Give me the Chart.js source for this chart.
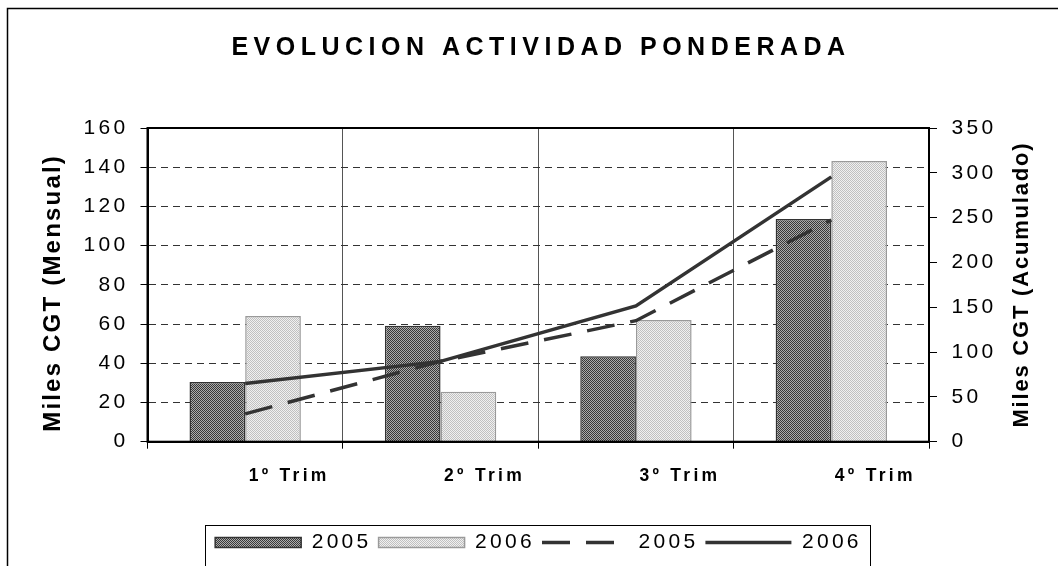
<!DOCTYPE html>
<html>
<head>
<meta charset="utf-8">
<script src="https://cdn.jsdelivr.net/npm/chart.js@4.4.0/dist/chart.umd.min.js"></script>
<style>
html, body { margin: 0; padding: 0; background: #fff; }
#wrap { width: 1058px; height: 566px; }
</style>
</head>
<body>
<div id="wrap"><canvas id="grafico"></canvas></div>
<script>
var titulo = 'EVOLUCION ACTIVIDAD PONDERADA';
var trimestres = ['1º Trim', '2º Trim', '3º Trim', '4º Trim'];
var mensual2005 = [30.5, 59.2, 43.6, 113.6];
var mensual2006 = [64.1, 25.5, 62.1, 143.2];
var acumulado2005 = [31, 89.7, 135, 247.4];
var acumulado2006 = [65, 89.6, 151.5, 295.5];
var escalaMensual = [0, 160, 20];     // min, max, paso
var escalaAcumulado = [0, 350, 50];
var tituloIzq = 'Miles CGT (Mensual)';
var tituloDer = 'Miles CGT (Acumulado)';

var fuente = '"Liberation Sans", Arial, Helvetica, sans-serif';
Chart.defaults.font.family = fuente;
Chart.defaults.color = '#000';

var canvas = document.getElementById('grafico');
var ctx = canvas.getContext('2d');

function trama(c1, c2) {
    var c = document.createElement('canvas');
    c.width = 2; c.height = 2;
    var x = c.getContext('2d');
    x.fillStyle = c2; x.fillRect(0, 0, 2, 2);
    x.fillStyle = c1; x.fillRect(0, 0, 1, 1); x.fillRect(1, 1, 1, 1);
    return ctx.createPattern(c, 'repeat');
}

// el texto del original sale algo espaciado
var espaciado = '3.3px';

var decorado = {
    id: 'decorado',
    beforeLayout: function(chart) {
        chart.ctx.letterSpacing = espaciado;
    },
    beforeDraw: function(chart) {
        var c = chart.ctx;
        c.letterSpacing = espaciado;
        c.save();
        c.fillStyle = '#fff';
        c.fillRect(0, 0, chart.width, chart.height);
        c.strokeStyle = '#000';
        c.lineWidth = 1.5;
        c.strokeRect(7.5, 8.5, chart.width + 20, chart.height + 20);
        c.restore();
    },
    afterDraw: function(chart) {
        var c = chart.ctx, a = chart.chartArea;
        c.save();
        c.strokeStyle = '#000';
        c.lineWidth = 2;
        c.strokeRect(a.left, a.top, a.right - a.left, a.bottom - a.top);

        c.fillStyle = '#000';
        c.font = 'bold 25px ' + fuente;
        c.letterSpacing = '5.5px';
        c.textAlign = 'center';
        c.textBaseline = 'alphabetic';
        c.fillText(titulo, 541, 54.5);

        c.textBaseline = 'middle';
        c.save();
        c.font = 'bold 24px ' + fuente;
        c.letterSpacing = '2.2px';
        c.translate(53, 294);
        c.rotate(-Math.PI / 2);
        c.fillText(tituloIzq, 1.1, 0);
        c.restore();
        c.save();
        c.font = 'bold 22px ' + fuente;
        c.letterSpacing = '1.8px';
        c.translate(1021.5, 285.5);
        c.rotate(-Math.PI / 2);
        c.fillText(tituloDer, 0.9, 0);
        c.restore();

        var lg = chart.legend, hb = lg.legendHitBoxes;
        if (hb && hb.length) {
            var ult = hb[hb.length - 1];
            var izq = hb[0].left - 10, der = ult.left + ult.width + 8;
            c.lineWidth = 1;
            c.strokeStyle = '#000';
            c.strokeRect(Math.round(izq) + 0.5, Math.round(lg.top) + 0.5, Math.round(der - izq), 80);
        }
        c.restore();
    }
};

var config = {
    type: 'bar',
    plugins: [decorado],
    data: {
        labels: trimestres,
        datasets: [{
            label: '2005',
            data: mensual2005,
            backgroundColor: trama('#383838', '#acacac'),
            borderColor: '#333333',
            borderWidth: 1.5,
            pointStyle: 'rect',
            yAxisID: 'y',
            order: 2
        }, {
            label: '2006',
            data: mensual2006,
            backgroundColor: trama('#c0c0c0', '#f0f0f0'),
            borderColor: '#9a9a9a',
            borderWidth: 1.5,
            pointStyle: 'rect',
            yAxisID: 'y',
            order: 2
        }, {
            type: 'line',
            label: '2005',
            data: acumulado2005,
            borderColor: '#333333',
            backgroundColor: '#333333',
            borderWidth: 3.5,
            borderDash: [28, 16],
            pointRadius: 0,
            pointStyle: 'line',
            tension: 0,
            yAxisID: 'y1',
            order: 1
        }, {
            type: 'line',
            label: '2006',
            data: acumulado2006,
            borderColor: '#333333',
            backgroundColor: '#333333',
            borderWidth: 3.5,
            pointRadius: 0,
            pointStyle: 'line',
            tension: 0,
            yAxisID: 'y1',
            order: 1
        }]
    },
    options: {
        responsive: true,
        maintainAspectRatio: false,
        animation: false,
        layout: { padding: { left: 19, right: 0, top: 128, bottom: 3 } },
        datasets: {
            bar: { categoryPercentage: 0.57, barPercentage: 1.0 }
        },
        plugins: {
            title: { display: false },
            tooltip: { enabled: false },
            legend: {
                position: 'bottom',
                labels: {
                    usePointStyle: true,
                    pointStyleWidth: 86,
                    boxHeight: 10,
                    padding: 7,
                    color: '#000',
                    font: { size: 21 },
                    sort: function(a, b) { return a.datasetIndex - b.datasetIndex; },
                    generateLabels: function(chart) {
                        var items = Chart.defaults.plugins.legend.labels.generateLabels(chart);
                        items.forEach(function(it) {
                            var ds = chart.data.datasets[it.datasetIndex];
                            if (ds.type === 'line') {
                                it.lineDash = ds.borderDash || [];
                                it.lineWidth = ds.borderWidth;
                                it.strokeStyle = ds.borderColor;
                            }
                        });
                        return items;
                    }
                }
            }
        },
        scales: {
            x: {
                offset: true,
                grid: { offset: true, color: '#555', lineWidth: 1, tickLength: 7, tickColor: '#000' },
                border: { color: '#000', width: 2 },
                ticks: {
                    labelOffset: 44,
                    padding: 17,
                    maxRotation: 0,
                    color: '#000',
                    font: { size: 17.5, weight: 'bold' }
                },
                afterFit: function(scale) {
                    var lg = scale.chart.legend;
                    scale.height = scale.chart.height - 3 - (lg ? lg.height : 41) - 441.7;
                }
            },
            y: {
                position: 'left',
                min: escalaMensual[0],
                max: escalaMensual[1],
                grid: { color: '#333', lineWidth: 1, tickLength: 7, tickColor: '#000', tickBorderDash: [] },
                border: { color: '#000', width: 2, dash: [7, 5] },
                ticks: { stepSize: escalaMensual[2], padding: 12, color: '#000', font: { size: 21 } },
                afterFit: function(scale) { scale.width = 147.5 - 19; }
            },
            y1: {
                position: 'right',
                min: escalaAcumulado[0],
                max: escalaAcumulado[1],
                grid: { drawOnChartArea: false, color: '#000', tickLength: 8, tickColor: '#000' },
                border: { color: '#000', width: 2 },
                ticks: { stepSize: escalaAcumulado[2], padding: 14.5, color: '#000', font: { size: 21 } },
                afterFit: function(scale) { scale.width = scale.chart.width - 929; }
            }
        }
    }
};

var chart = new Chart(ctx, config);
</script>
</body>
</html>
